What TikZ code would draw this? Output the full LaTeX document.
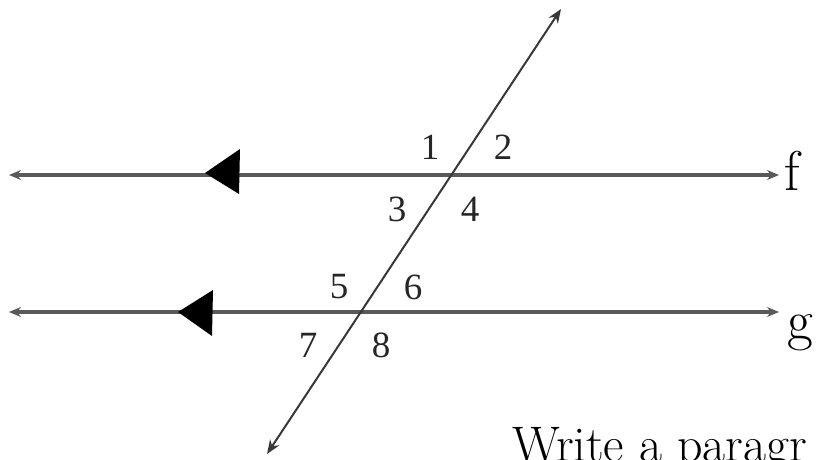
\documentclass[tikz,border=0pt]{standalone}
\usepackage{fontspec}
\setmainfont{Liberation Serif}
\newfontfamily\lmfont{Latin Modern Roman}
\usetikzlibrary{arrows.meta}
\tikzset{
  parline/.style={draw=black!65, line width=3.2pt, {Stealth[length=12pt,width=10pt]}-{Stealth[length=12pt,width=10pt]}},
  transline/.style={draw=black!78, line width=2pt, {Stealth[length=14pt,width=11pt]}-{Stealth[length=14pt,width=11pt]}},
  bigtri/.style={fill=black},
  anglelbl/.style={inner sep=0pt, font={\rmfamily\fontsize{37}{37}\selectfont}, text=black!85},
  linelbl/.style={inner sep=0pt, anchor=base west, font={\lmfont\fontsize{56}{56}\selectfont}},
  bodytext/.style={inner sep=0pt, anchor=base west, font={\lmfont\fontsize{50}{50}\selectfont}}
}
\begin{document}
\begin{tikzpicture}[x=1pt,y=-1pt]
\useasboundingbox (0,0) rectangle (817,460);
% line endpoints
\coordinate (fL) at (9,175);
\coordinate (fR) at (779,175);
\coordinate (gL) at (9,312);
\coordinate (gR) at (779,312);
\coordinate (tT) at (561,9);
\coordinate (tB) at (267,454);
% parallel lines
\draw[parline] (fL) -- (fR);
\draw[parline] (gL) -- (gR);
% transversal
\draw[transline] (tB) -- (tT);
% big direction triangles
\fill[bigtri] (205,173) -- (240,149) -- (239,194) -- cycle;
\fill[bigtri] (178,312) -- (213,290) -- (212,336) -- cycle;
% angle labels
\node[anglelbl] (n1) at (430,147) {1};
\node[anglelbl] (n2) at (503,147) {2};
\node[anglelbl] (n3) at (397,209) {3};
\node[anglelbl] (n4) at (470,209) {4};
\node[anglelbl] (n5) at (339,287) {5};
\node[anglelbl] (n6) at (413,287) {6};
\node[anglelbl] (n7) at (308,345) {7};
\node[anglelbl] (n8) at (381,345) {8};
% line labels
\node[linelbl] (lf) at (784,190) {f};
\node[linelbl] (lg) at (787,339) {g};
% cut-off text (cut off at the edge in the reference as well)
\node[bodytext] (txt) at (512,461) {Write a paragr};
\end{tikzpicture}
\end{document}
